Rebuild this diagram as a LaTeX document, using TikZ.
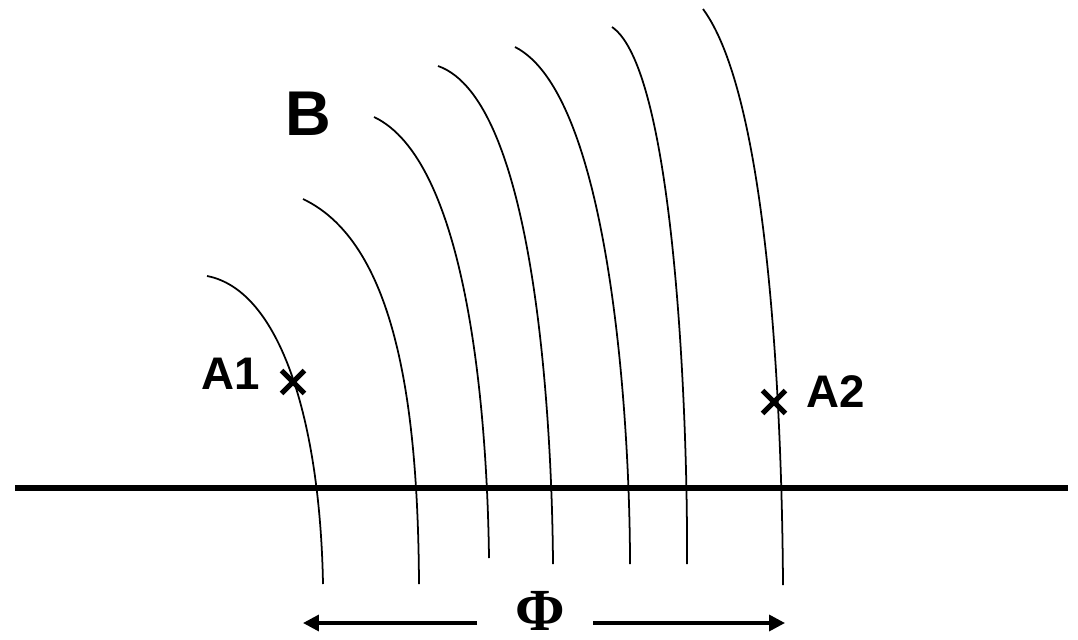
\documentclass[tikz,border=0pt]{standalone}
\usepackage{fontspec}
\setmainfont{Liberation Sans}
\newfontfamily\phifont{Liberation Serif}
\usetikzlibrary{positioning, arrows.meta, shapes.misc}

\begin{document}
\begin{tikzpicture}[x=0.02cm, y=-0.02cm,
    fieldline/.style={line width=1pt},
    probe/.style={cross out, draw, line width=3pt, minimum size=10pt, inner sep=0pt},
    lbl/.style={font=\bfseries\fontsize{26}{30}\selectfont, inner sep=0pt},
    fluxarrow/.style={line width=2pt, -{Triangle[length=9pt, width=9pt]}}]

    \useasboundingbox (0,0) rectangle (1078,639);

    % Field lines of B, left to right
    \draw[fieldline] (207,276) .. controls (280,290) and (320,420) .. (323,584);
    \draw[fieldline] (303,199) .. controls (400,245) and (418,420) .. (419,584);
    \draw[fieldline] (374,117) .. controls (465,160) and (487,400) .. (489,558);
    \draw[fieldline] (438,66)  .. controls (535,100) and (552,420) .. (553,564);
    \draw[fieldline] (515,47)  .. controls (610,95)  and (630,420) .. (630,564);
    \draw[fieldline] (612,27)  .. controls (675,70)  and (688,420) .. (687,564);
    \draw[fieldline] (703,9)   .. controls (770,100) and (782,420) .. (783,585);

    % Surface line
    \draw[line width=3pt] (15,488) -- (1068,488);

    % Field label
    \node[lbl, font=\bfseries\fontsize{36}{40}\selectfont] (blabel) at (308,114) {B};

    % Points A1 and A2 on the outer field lines
    \node[probe] (a1) at (293,382) {};
    \node[lbl, left=12pt of a1, yshift=4.5pt] (a1label) {A1};
    \node[probe] (a2) at (774,402) {};
    \node[lbl, right=12pt of a2, yshift=5.7pt] (a2label) {A2};

    % Flux width with arrows out to both sides
    \node[font=\phifont\bfseries\fontsize{34}{40}\selectfont, inner sep=0pt] (phi) at (540,611) {Φ};
    \coordinate (phil) at (477,623);
    \coordinate (phir) at (593,623);
    \coordinate (fluxl) at (303,623);
    \coordinate (fluxr) at (785,623);
    \draw[fluxarrow] (phil) -- (fluxl);
    \draw[fluxarrow] (phir) -- (fluxr);

\end{tikzpicture}
\end{document}
